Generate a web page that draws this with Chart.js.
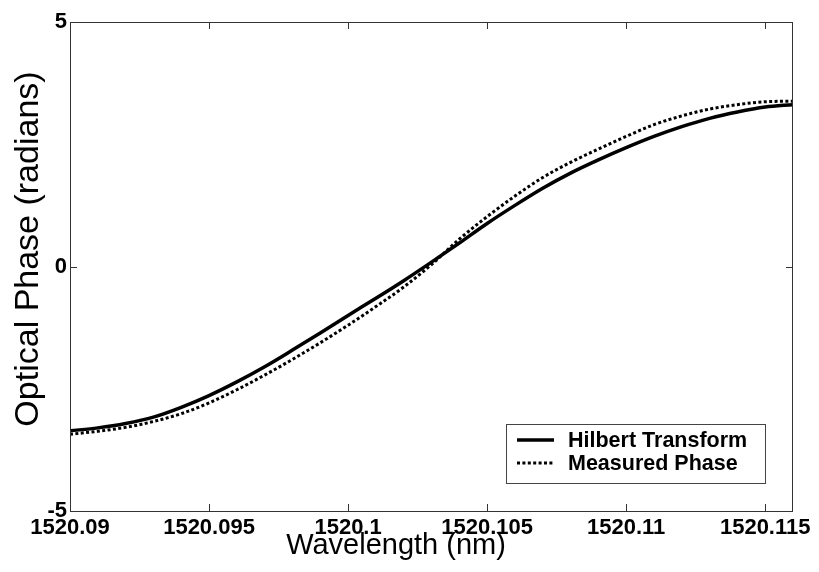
<!DOCTYPE html>
<html>
<head>
<meta charset="utf-8">
<script src="https://cdn.jsdelivr.net/npm/chart.js@4/dist/chart.umd.min.js"></script>
<style>
  html, body { margin: 0; padding: 0; background: #fff; }
  #wrap { width: 819px; height: 572px; }
</style>
</head>
<body>
<div id="wrap"><canvas id="c" width="819" height="572"></canvas></div>
<script>
// Wavelength samples (nm)
const wavelength = [
  1520.090, 1520.091, 1520.092, 1520.093, 1520.094, 1520.095, 1520.096,
  1520.097, 1520.098, 1520.099, 1520.100, 1520.101, 1520.102, 1520.103,
  1520.104, 1520.105, 1520.106, 1520.107, 1520.108, 1520.109, 1520.110,
  1520.111, 1520.112, 1520.113, 1520.114, 1520.115, 1520.116
];
// Phase recovered through the Hilbert transform (radians)
const hilbertPhase = [
  -3.36, -3.30, -3.21, -3.08, -2.88, -2.64, -2.36,
  -2.05, -1.71, -1.36, -1.00, -0.65, -0.29, 0.09,
  0.48, 0.88, 1.25, 1.60, 1.91, 2.18, 2.43,
  2.66, 2.86, 3.03, 3.16, 3.26, 3.31
];
// Directly measured phase (radians)
const measuredPhase = [
  -3.43, -3.37, -3.29, -3.17, -3.01, -2.79, -2.52,
  -2.22, -1.90, -1.56, -1.20, -0.82, -0.42, 0.04,
  0.56, 1.02, 1.44, 1.82, 2.13, 2.40, 2.66,
  2.90, 3.08, 3.22, 3.31, 3.37, 3.38
];
const seriesNames = ['Hilbert Transform', 'Measured Phase'];
const xTicks = [1520.09, 1520.095, 1520.1, 1520.105, 1520.11, 1520.115];
const xTickLabels = ['1520.09', '1520.095', '1520.1', '1520.105', '1520.11', '1520.115'];
const yTicks = [-5, 0, 5];
const yTickLabels = ['-5', '0', '5'];
const xTitle = 'Wavelength (nm)';
const yTitle = 'Optical Phase (radians)';

const FONT = "'Liberation Sans', Arial, Helvetica, sans-serif";
const DOT_DASH = [3, 2.4];

// Frame, inward tick marks, legend box and axis titles
const decorations = {
  id: 'decorations',
  afterDraw(chart) {
    const ctx = chart.ctx;
    const a = chart.chartArea;
    const xs = chart.scales.x, ys = chart.scales.y;
    const tl = 7;
    ctx.save();
    ctx.strokeStyle = '#333';
    ctx.lineWidth = 1;
    ctx.strokeRect(a.left + 0.5, a.top + 0.5, a.right - a.left - 1, a.bottom - a.top);
    ctx.beginPath();
    xTicks.forEach(v => {
      const px = Math.round(xs.getPixelForValue(v)) + 0.5;
      ctx.moveTo(px, a.bottom); ctx.lineTo(px, a.bottom - tl);
      ctx.moveTo(px, a.top); ctx.lineTo(px, a.top + tl);
    });
    yTicks.forEach(v => {
      const py = Math.round(ys.getPixelForValue(v)) + 0.5;
      ctx.moveTo(a.left, py); ctx.lineTo(a.left + tl, py);
      ctx.moveTo(a.right, py); ctx.lineTo(a.right - tl, py);
    });
    ctx.stroke();

    // legend
    const lx = 506, ly = 424, lw = 259, lh = 59;
    ctx.fillStyle = '#fff';
    ctx.fillRect(lx, ly, lw, lh);
    ctx.strokeStyle = '#444';
    ctx.strokeRect(lx + 0.5, ly + 0.5, lw, lh);
    const rows = [ly + 16, ly + 39];
    chart.data.datasets.forEach((ds, i) => {
      ctx.beginPath();
      ctx.strokeStyle = ds.borderColor;
      ctx.lineWidth = ds.borderWidth;
      ctx.setLineDash(ds.borderDash || []);
      ctx.moveTo(517, rows[i]); ctx.lineTo(554, rows[i]);
      ctx.stroke();
      ctx.setLineDash([]);
      ctx.fillStyle = '#000';
      ctx.font = 'bold 21.5px ' + FONT;
      ctx.textAlign = 'left';
      ctx.textBaseline = 'middle';
      ctx.fillText(ds.label, 568, rows[i] + 1);
    });

    // axis titles
    ctx.fillStyle = '#000';
    ctx.font = '29px ' + FONT;
    ctx.textAlign = 'center';
    ctx.textBaseline = 'middle';
    ctx.fillText(xTitle, 396, 546);
    ctx.font = '34px ' + FONT;
    ctx.translate(29, 249);
    ctx.rotate(-Math.PI / 2);
    ctx.fillText(yTitle, 0, 0);
    ctx.restore();
  }
};

const toPoints = ys => wavelength.map((x, i) => ({ x: x, y: ys[i] }));

new Chart(document.getElementById('c'), {
  type: 'line',
  data: {
    datasets: [
      {
        label: seriesNames[0],
        data: toPoints(hilbertPhase),
        borderColor: '#000',
        borderWidth: 3.5,
        pointRadius: 0,
        cubicInterpolationMode: 'monotone',
        fill: false
      },
      {
        label: seriesNames[1],
        data: toPoints(measuredPhase),
        borderColor: '#000',
        borderWidth: 3,
        borderDash: DOT_DASH,
        borderCapStyle: 'butt',
        pointRadius: 0,
        cubicInterpolationMode: 'monotone',
        fill: false
      }
    ]
  },
  options: {
    responsive: false,
    animation: false,
    devicePixelRatio: 1,
    layout: { padding: { top: 22, right: 26, left: 0, bottom: 0 } },
    plugins: { legend: { display: false }, tooltip: { enabled: false } },
    scales: {
      x: {
        type: 'linear',
        min: 1520.09,
        max: 1520.116,
        grid: { display: false, drawTicks: false },
        border: { display: false },
        afterBuildTicks: s => { s.ticks = xTicks.map(v => ({ value: v })); },
        afterFit: s => { s.height = 61; },
        ticks: {
          autoSkip: false,
          maxRotation: 0,
          padding: 4,
          color: '#000',
          font: { family: FONT, size: 22, weight: 'bold' },
          callback: (v, i) => xTickLabels[i]
        }
      },
      y: {
        type: 'linear',
        min: -5,
        max: 5,
        grid: { display: false, drawTicks: false },
        border: { display: false },
        afterBuildTicks: s => { s.ticks = yTicks.map(v => ({ value: v })); },
        afterFit: s => { s.width = 70; },
        ticks: {
          padding: 3,
          color: '#000',
          font: { family: FONT, size: 22, weight: 'bold' },
          callback: (v, i) => yTickLabels[i]
        }
      }
    }
  },
  plugins: [decorations]
});
</script>
</body>
</html>
